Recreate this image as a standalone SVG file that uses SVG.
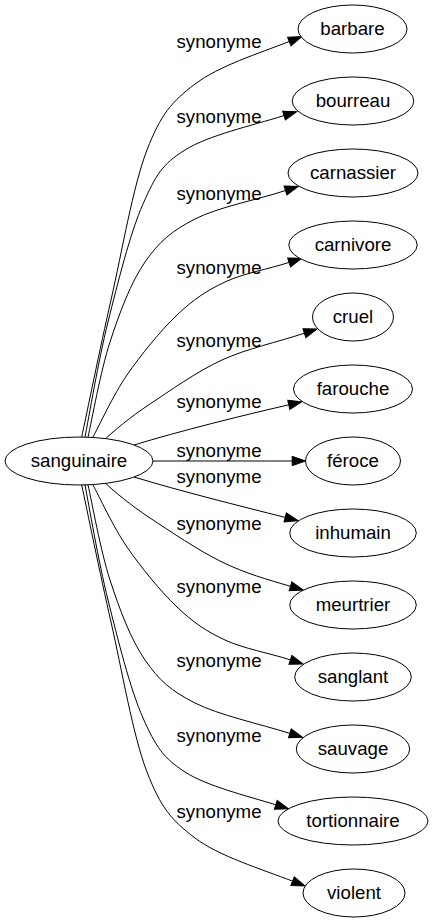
<svg xmlns="http://www.w3.org/2000/svg" width="433" height="923" viewBox="0 0 433 923">
<style>
.n ellipse{fill:#fff;stroke:#000;stroke-width:1}
.n text,.lbl{font-family:"Liberation Sans",Arial,sans-serif;font-size:18.67px;fill:#000;text-anchor:middle}
.e path{fill:none;stroke:#000;stroke-width:1;marker-end:url(#ah)}
</style>
<defs>
<marker id="ah" markerUnits="userSpaceOnUse" markerWidth="14" markerHeight="10" refX="0" refY="4.67" orient="auto" overflow="visible">
<path d="M0,0 L13.3,4.67 L0,9.33 Z" fill="#000" stroke="#000" stroke-width="1"/>
</marker>
</defs>
<g id="edges" class="e">
<path d="M81.7,437 C86.6,414.2 100.1,347.8 111,300 S133,186 147,150 S171.3,102.1 195,84 S258.6,53.5 289.3,41.5"/>
<path d="M85,437 C88.8,417.8 98.3,360.8 108,322 S130.2,232.7 143,204 S161.5,164.7 185,150 S250.6,126 284,115.6"/>
<path d="M88,437 C91.7,421.2 100.5,371.2 110,342 S130.8,282.5 145,262 S171.8,230.9 195,219 S255.9,200.2 285.5,190.5"/>
<path d="M93,437 C98.7,426.7 113,395.3 127,375 S160.7,330.5 177,315 S206.3,290.8 225,282 S267.9,269.3 289.1,262.4"/>
<path d="M105.7,438.6 C113.1,431.5 130.6,416.8 150,404 S196.6,371.6 222,360 S277.7,342.1 304.4,333.2"/>
<path d="M134,445 C180,431 240,416 288.8,404.8"/>
<path d="M153,461 L292.2,461"/>
<path d="M134,477 C180,491 240,506 285.2,517.4"/>
<path d="M105.7,483.4 C113.1,490.5 130.6,505.2 150,518 S198.6,550.6 222,562 S267.3,579.5 290.5,586.3"/>
<path d="M93,485 C98.7,495.3 113,526.7 127,547 S160.7,591.5 177,607 S206.3,631.3 225,640 S269.1,653 290.4,659.9"/>
<path d="M88,485 C91.7,500.8 100.5,550.8 110,580 S130.8,639.5 145,660 S171,690.9 195,703 S258.6,723.6 289.9,733.4"/>
<path d="M85,485 C88.8,504.2 98.3,561.2 108,600 S130.2,689.3 143,718 S163.2,757.9 185,772 S245.8,795.5 275.8,804.8"/>
<path d="M81.7,485 C86.6,507.8 100.1,574.2 111,622 S133,736 147,772 S171.3,819.9 195,838 S261.9,869.2 292.6,881.2"/>
</g>
<g id="labels">
<text class="lbl" x="219" y="47.7">synonyme</text>
<text class="lbl" x="219" y="123.3">synonyme</text>
<text class="lbl" x="219" y="200">synonyme</text>
<text class="lbl" x="219" y="274.3">synonyme</text>
<text class="lbl" x="219" y="346.7">synonyme</text>
<text class="lbl" x="219" y="408.3">synonyme</text>
<text class="lbl" x="219" y="456.7">synonyme</text>
<text class="lbl" x="219" y="483.3">synonyme</text>
<text class="lbl" x="219" y="530">synonyme</text>
<text class="lbl" x="219" y="593.3">synonyme</text>
<text class="lbl" x="219" y="666.7">synonyme</text>
<text class="lbl" x="219" y="741.7">synonyme</text>
<text class="lbl" x="219" y="818.3">synonyme</text>
</g>
<g id="sanguinaire" class="n"><ellipse cx="79" cy="461" rx="74" ry="24"/><text x="79" y="466.5">sanguinaire</text></g>
<g id="barbare" class="n"><ellipse cx="352.5" cy="29" rx="54.5" ry="24"/><text x="352.5" y="34.5">barbare</text></g>
<g id="bourreau" class="n"><ellipse cx="353" cy="101" rx="60.8" ry="24"/><text x="353" y="106.5">bourreau</text></g>
<g id="carnassier" class="n"><ellipse cx="353" cy="173" rx="65" ry="24"/><text x="353" y="178.5">carnassier</text></g>
<g id="carnivore" class="n"><ellipse cx="353" cy="245" rx="64.2" ry="24"/><text x="353" y="250.5">carnivore</text></g>
<g id="cruel" class="n"><ellipse cx="353" cy="317" rx="40.5" ry="24"/><text x="353" y="322.5">cruel</text></g>
<g id="farouche" class="n"><ellipse cx="353" cy="389" rx="59.5" ry="24"/><text x="353" y="394.5">farouche</text></g>
<g id="feroce" class="n"><ellipse cx="353" cy="461" rx="47.5" ry="24"/><text x="353" y="466.5">féroce</text></g>
<g id="inhumain" class="n"><ellipse cx="353" cy="533" rx="63.3" ry="24"/><text x="353" y="538.5">inhumain</text></g>
<g id="meurtrier" class="n"><ellipse cx="353" cy="605" rx="63.3" ry="24"/><text x="353" y="610.5">meurtrier</text></g>
<g id="sanglant" class="n"><ellipse cx="353" cy="677" rx="58.3" ry="24"/><text x="353" y="682.5">sanglant</text></g>
<g id="sauvage" class="n"><ellipse cx="353" cy="749" rx="56.7" ry="24"/><text x="353" y="754.5">sauvage</text></g>
<g id="tortionnaire" class="n"><ellipse cx="353" cy="821" rx="75" ry="24"/><text x="353" y="826.5">tortionnaire</text></g>
<g id="violent" class="n"><ellipse cx="354" cy="893" rx="51" ry="24"/><text x="354" y="898.5">violent</text></g>
</svg>
